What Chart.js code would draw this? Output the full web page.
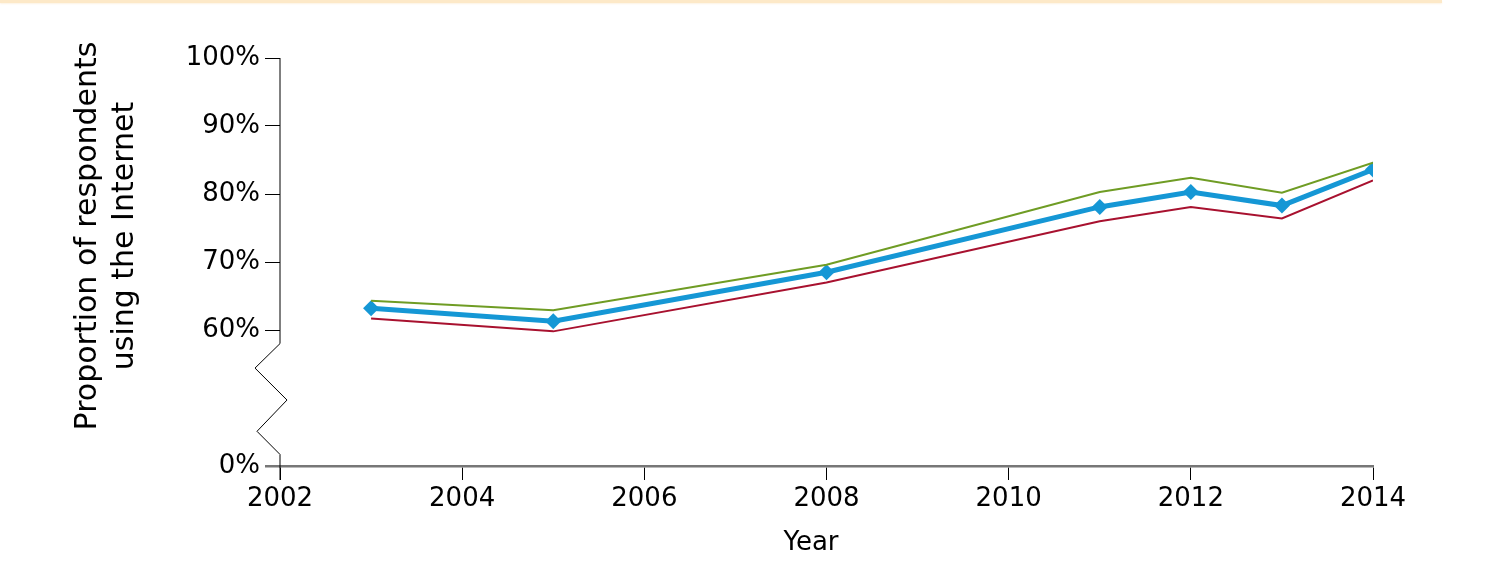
<!DOCTYPE html>
<html>
<head>
<meta charset="utf-8">
<script src="https://cdn.jsdelivr.net/npm/chart.js@4"></script>
<style>
  html, body { margin: 0; padding: 0; background: #fff; }
  #wrap { position: relative; width: 1512px; height: 568px; }
  #band { position: absolute; left: 0; top: 0; width: 1442px; height: 3px; background: #fde9c8; box-shadow: 0 1px 2px #fdf3e3; }
</style>
</head>
<body>
<div id="wrap">
  <div id="band"></div>
  <canvas id="chart" width="1512" height="568"></canvas>
</div>
<script>
const years = [2003, 2005, 2008, 2011, 2012, 2013, 2014];
const upper = [64.3, 62.9, 69.6, 80.3, 82.4, 80.2, 84.6];
const estimate = [63.2, 61.3, 68.5, 78.1, 80.3, 78.3, 83.6];
const lower = [61.7, 59.8, 67.0, 76.0, 78.1, 76.4, 82.0];
// the 40 position stands for 0% (broken axis)
const yTickLabels = { 40: '0%', 50: '', 60: '60%', 70: '70%', 80: '80%', 90: '90%', 100: '100%' };
const yTitle = ['Proportion of respondents', 'using the Internet'];
const xTitle = 'Year';

const FONT = 'DejaVu Sans';
Chart.defaults.font.family = FONT;
Chart.defaults.color = '#000';

function pts(vals) {
  return years.map((y, i) => ({ x: y, y: vals[i] }));
}

// y axis line with a zigzag break, plus the axis titles
const axisExtras = {
  id: 'axisExtras',
  afterDraw(chart) {
    const { ctx, scales: { x, y } } = chart;
    const x0 = x.left;
    const py = v => y.getPixelForValue(v);
    ctx.save();
    ctx.strokeStyle = '#000';
    ctx.lineWidth = 1;
    ctx.beginPath();
    ctx.moveTo(x0, py(100));
    ctx.lineTo(x0, py(58.0));
    ctx.lineTo(x0 - 25, py(54.4));
    ctx.lineTo(x0 + 7, py(49.7));
    ctx.lineTo(x0 - 23, py(45.1));
    ctx.lineTo(x0, py(41.7));
    ctx.lineTo(x0, py(40) + 14);
    ctx.stroke();

    ctx.fillStyle = '#000';
    ctx.font = '30px "' + FONT + '"';
    ctx.textAlign = 'center';
    ctx.textBaseline = 'alphabetic';
    const titlePos = [[96, 236], [133, 236]];
    yTitle.forEach((t, i) => {
      ctx.save();
      ctx.translate(titlePos[i][0], titlePos[i][1]);
      ctx.rotate(-Math.PI / 2);
      ctx.fillText(t, 0, 0);
      ctx.restore();
    });
    ctx.font = '26px "' + FONT + '"';
    ctx.textBaseline = 'middle';
    ctx.fillText(xTitle, 811, 543);
    ctx.restore();
  }
};

new Chart(document.getElementById('chart'), {
  type: 'line',
  data: {
    datasets: [
      {
        data: pts(upper),
        borderColor: '#6f9c24',
        borderWidth: 2,
        pointRadius: 0,
        tension: 0
      },
      {
        data: pts(lower),
        borderColor: '#a8112f',
        borderWidth: 2,
        pointRadius: 0,
        tension: 0
      },
      {
        data: pts(estimate),
        borderColor: '#1597d5',
        backgroundColor: '#1597d5',
        borderWidth: 5,
        pointStyle: 'rectRot',
        pointRadius: 8,
        pointBorderWidth: 0,
        tension: 0
      }
    ]
  },
  options: {
    responsive: false,
    animation: false,
    layout: { padding: { top: 58, right: 139, bottom: 0, left: 0 } },
    plugins: { legend: { display: false }, tooltip: { enabled: false } },
    scales: {
      x: {
        type: 'linear',
        min: 2002,
        max: 2014,
        afterFit(s) { s.height = 102; },
        ticks: { stepSize: 2, font: { size: 26 }, padding: 4, callback: v => String(v) },
        grid: { drawOnChartArea: false, tickLength: 14, color: '#000', lineWidth: 1 },
        border: { display: true, color: '#777', width: 2.5 }
      },
      y: {
        min: 40,
        max: 100,
        afterFit(s) { s.width = 280; },
        ticks: {
          stepSize: 10,
          font: { size: 26 },
          padding: 5,
          callback: v => yTickLabels[v] !== undefined ? yTickLabels[v] : ''
        },
        grid: {
          drawOnChartArea: false,
          tickLength: 15,
          color: c => c.tick.value === 50 ? 'rgba(0,0,0,0)' : (c.tick.value === 40 ? '#777' : '#000'),
          lineWidth: c => c.tick.value === 40 ? 2.5 : 1
        },
        border: { display: false }
      }
    }
  },
  plugins: [axisExtras]
});
</script>
</body>
</html>
